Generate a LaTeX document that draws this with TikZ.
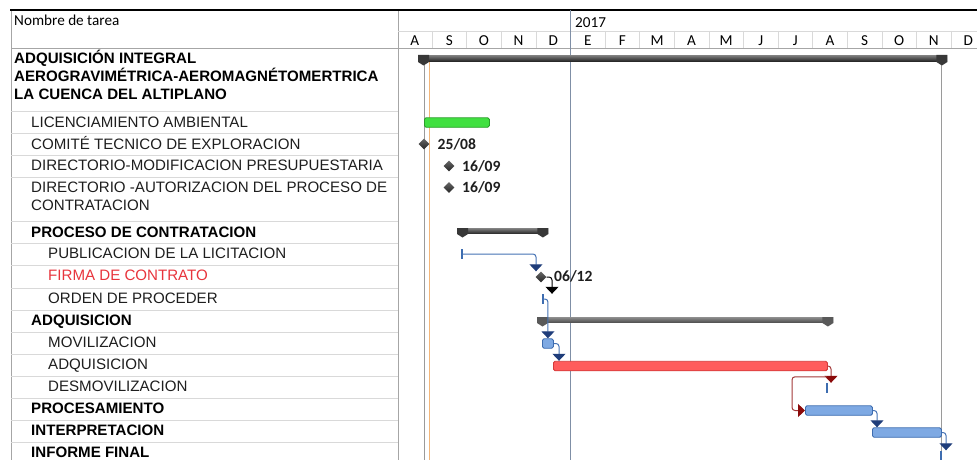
\documentclass[tikz,border=0pt]{standalone}
\usepackage{fontspec}
\setmainfont{Liberation Sans}
\newfontfamily\calib{Carlito}
\usetikzlibrary{arrows.meta,shapes.geometric}

\definecolor{gridgray}{HTML}{D9D9D9}
\definecolor{framegray}{HTML}{A6A6A6}
\definecolor{yearline}{HTML}{7F8FA6}
\definecolor{orangeline}{HTML}{F2B67A}
\definecolor{dateline}{HTML}{9A9A9A}
\definecolor{greenfill}{HTML}{40E040}
\definecolor{greendraw}{HTML}{2A9E2A}
\definecolor{redfill}{HTML}{FF5C5C}
\definecolor{reddraw}{HTML}{D43A3A}
\definecolor{bluefill}{HTML}{7EA9E3}
\definecolor{bluedraw}{HTML}{3E6DB0}
\definecolor{linkblue}{HTML}{4572B4}
\definecolor{tipblue}{HTML}{1F3D7A}
\definecolor{linkred}{HTML}{A33A3A}
\definecolor{tipred}{HTML}{8B0A0A}
\definecolor{textred}{HTML}{E8343C}
\definecolor{textdark}{HTML}{1E1E1E}

\begin{document}
\begin{tikzpicture}[x=1pt, y=-1pt,
  tname/.style={anchor=base west, inner sep=0, text=textdark,
    font=\fontsize{15.1}{18}\selectfont},
  tgroup/.style={anchor=base west, inner sep=0, text=black,
    font=\fontsize{15.1}{18}\selectfont\bfseries},
  hdr/.style={inner sep=0, text=black, font=\calib\fontsize{15.2}{17}\selectfont},
  datelbl/.style={anchor=west, inner sep=0, text=textdark,
    font=\calib\bfseries\fontsize{15.6}{17}\selectfont},
  taskbar/.style={rectangle, rounded corners=1.6pt, inner sep=0, anchor=west,
    minimum height=9.5pt, line width=0.9pt},
  greenbar/.style={taskbar, fill=greenfill, draw=greendraw},
  redbar/.style={taskbar, fill=redfill, draw=reddraw},
  bluebar/.style={taskbar, fill=bluefill, draw=bluedraw},
  sumbar/.style={rectangle, inner sep=0, anchor=north west, minimum height=5.5pt,
    top color=black!50, bottom color=black!85},
  sumbarlight/.style={sumbar, top color=black!45, bottom color=black!70},
  sumcap/.style={fill=black!78},
  sumcaplight/.style={fill=black!65},
  mile/.style={diamond, inner sep=0, minimum width=11pt, minimum height=11pt,
    top color=black!60, bottom color=black!85},
  ticker/.style={rectangle, inner sep=0, minimum width=1.8pt, minimum height=10pt,
    fill=bluedraw},
  linkb/.style={draw=linkblue, line width=1pt, rounded corners=3pt,
    -{Triangle[width=13pt,length=7pt,color=tipblue]}},
  linkk/.style={draw=black, line width=1pt, rounded corners=3pt,
    -{Triangle[width=13pt,length=7pt,color=black]}},
  linkr/.style={draw=linkred, line width=1pt, rounded corners=3pt,
    -{Triangle[width=13pt,length=7pt,color=tipred]}},
  rowline/.style={draw=gridgray, line width=0.8pt}
]
\useasboundingbox (0,0) rectangle (977,460);
\fill[white] (0,0) rectangle (977,460);

% ---------- table frame and header ----------
\draw[framegray, line width=0.8pt] (11,10) -- (11,460);
\draw[framegray, line width=0.8pt] (398,10) -- (398,460);
\draw[gridgray, line width=0.8pt] (398,31) -- (977,31);
\draw[framegray, line width=0.8pt] (11,48) -- (977,48);
\foreach \k in {1,...,16} {
  \draw[gridgray, line width=0.8pt] ({397.5+34.6*\k},31) -- ({397.5+34.6*\k},48);
}
\draw[black, line width=1.5pt] (10,10) -- (977,10);

\node[hdr, anchor=base west] (hname) at (14,26) {Nombre de tarea};
\node[hdr, anchor=base west] (hyear) at (575,27.5) {2017};
\foreach \m [count=\i from 0] in {A,S,O,N,D,E,F,M,A,M,J,J,A,S,O,N,D} {
  \node[hdr, anchor=base] (mon\i) at ({397.5+34.6*\i+17.3},46) {\m};
}

% ---------- row separators ----------
\foreach \yy in {111,133,155,177,221.5,243.5,265.5,288,310,332,354,376.5,398.5,420.5,442.5} {
  \draw[rowline] (11,\yy) -- (398,\yy);
}

% ---------- task names ----------
\node[tgroup] (n1a) at (14,63.4) {ADQUISICIÓN INTEGRAL};
\node[tgroup] (n1b) at (14,81.4) {AEROGRAVIMÉTRICA-AEROMAGNÉTOMERTRICA};
\node[tgroup] (n1c) at (14,99.4) {LA CUENCA DEL ALTIPLANO};
\node[tname] (n2) at (31,127.4) {LICENCIAMIENTO AMBIENTAL};
\node[tname] (n3) at (31,149.4) {COMITÉ TECNICO DE EXPLORACION};
\node[tname] (n4) at (31,170.9) {DIRECTORIO-MODIFICACION PRESUPUESTARIA};
\node[tname] (n5a) at (31,192.4) {DIRECTORIO -AUTORIZACION DEL PROCESO DE};
\node[tname] (n5b) at (31,210.4) {CONTRATACION};
\node[tgroup] (n6) at (31,237.4) {PROCESO DE CONTRATACION};
\node[tname] (n7) at (48,258.9) {PUBLICACION DE LA LICITACION};
\node[tname, text=textred] (n8) at (48,280.9) {FIRMA DE CONTRATO};
\node[tname] (n9) at (48,303.4) {ORDEN DE PROCEDER};
\node[tgroup] (n10) at (31,325.4) {ADQUISICION};
\node[tname] (n11) at (48,347.4) {MOVILIZACION};
\node[tname] (n12) at (48,369.4) {ADQUISICION};
\node[tname] (n13) at (48,391.4) {DESMOVILIZACION};
\node[tgroup] (n14) at (31,413.9) {PROCESAMIENTO};
\node[tgroup] (n15) at (31,435.9) {INTERPRETACION};
\node[tgroup] (n16) at (31,457.9) {INFORME FINAL};

% ---------- chart guide lines ----------
\draw[yearline, line width=0.9pt] (570.5,10) -- (570.5,460);
\draw[dateline, line width=0.9pt] (424,56) -- (424,460);
\draw[orangeline, line width=0.9pt] (429,60) -- (429,460);
\draw[dateline, line width=0.9pt] (941,60) -- (941,460);

% ---------- summary bars ----------
\node[sumbar, minimum width=529pt, minimum height=6pt] (proj) at (418,55) {};
\fill[sumcap] (proj.north west) -- ++(11,0) -- ++(0,7) -- ++(-5.5,3.5) -- ++(-5.5,-3.5) -- cycle;
\fill[sumcap] (proj.north east) -- ++(-11,0) -- ++(0,7) -- ++(5.5,3.5) -- ++(5.5,-3.5) -- cycle;

\node[sumbar, minimum width=91pt] (proc-sum) at (457,228) {};
\fill[sumcap] (proc-sum.north west) -- ++(11,0) -- ++(0,6) -- ++(-5.5,3.5) -- ++(-5.5,-3.5) -- cycle;
\fill[sumcap] (proc-sum.north east) -- ++(-11,0) -- ++(0,6) -- ++(5.5,3.5) -- ++(5.5,-3.5) -- cycle;

\node[sumbarlight, minimum width=296pt] (adq-sum) at (537,317) {};
\fill[sumcaplight] (adq-sum.north west) -- ++(11,0) -- ++(0,6) -- ++(-5.5,3.5) -- ++(-5.5,-3.5) -- cycle;
\fill[sumcaplight] (adq-sum.north east) -- ++(-11,0) -- ++(0,6) -- ++(5.5,3.5) -- ++(5.5,-3.5) -- cycle;

% ---------- task bars ----------
\node[greenbar, minimum width=65pt] (lic) at (424,122.5) {};
\node[bluebar, minimum width=11pt] (mov) at (542,343.5) {};
\node[redbar, minimum width=274pt] (adq) at (553,366) {};
\node[bluebar, minimum width=67pt] (proc) at (805,410.5) {};
\node[bluebar, minimum width=69pt] (interp) at (872,432.5) {};

% ---------- milestones ----------
\node[mile] (comite) at (424,144) {};
\node[datelbl] (d1) at (437.5,144) {25/08};
\node[mile] (dirmod) at (449,166) {};
\node[datelbl] (d2) at (462,166) {16/09};
\node[mile] (dirauto) at (449,187.5) {};
\node[datelbl] (d3) at (462,187.5) {16/09};
\node[mile] (firma) at (541,277) {};
\node[datelbl] (d4) at (554,276) {06/12};

% ---------- zero-length task markers ----------
\node[ticker] (pub) at (462,254) {};
\node[ticker] (orden) at (543,299) {};
\node[ticker] (desm) at (827,388) {};
\node[ticker] (inf) at (941,455.5) {};

% ---------- links ----------
\draw[linkb] (pub.center) -| ([xshift=-5pt]firma.north);
\draw[linkk] (firma.east) -| ([xshift=9pt]orden.north);
\draw[linkb] (orden.center) -| (mov.north);
\draw[linkb] (mov.east) -| ([xshift=6pt]adq.north west);
\draw[linkr] (adq.east) -| ([xshift=4pt]desm.north);
\draw[linkr] ([yshift=6pt]desm.north) -- ++(-35,0) |- (proc.west);
\draw[linkb] (proc.east) -| ([xshift=5pt]interp.north west);
\draw[linkb] (interp.east) -| ([xshift=5pt]inf.north);
\end{tikzpicture}
\end{document}
